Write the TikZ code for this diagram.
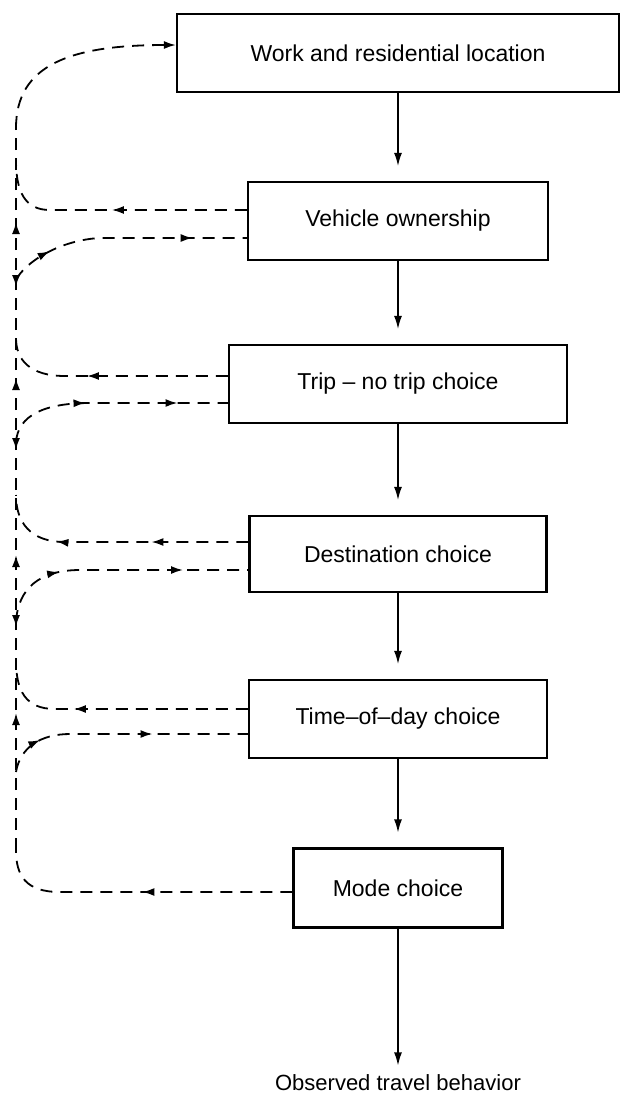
\documentclass[tikz,border=0pt]{standalone}
\usepackage{fontspec}
\setmainfont{Liberation Sans}
\usetikzlibrary{arrows.meta,decorations.markings}

\begin{document}
\begin{tikzpicture}[x=1pt,y=-1pt,
    box/.style={draw,line width=2.2pt,minimum height=78pt,font=\fontsize{23}{27}\selectfont},
    flow/.style={line width=1.4pt,-{Latex[length=13pt,width=8pt]},shorten >=15pt},
    fb/.style={line width=1.8pt,dash pattern=on 12pt off 8pt,postaction={decorate},decoration={markings}},
    tipat/.style={decoration={mark=at position #1 with {\arrow{Latex[length=12pt,width=8pt]}}}},
    tipback/.style={decoration={mark=at position #1 with {\arrowreversed{Latex[length=12pt,width=8pt]}}}}]
    \useasboundingbox (0,0) rectangle (621,1096);

    \node[box,minimum width=442pt] (work) at (398,53) {Work and residential location};
    \node[box,minimum width=300pt] (veh) at (398,221) {Vehicle ownership};
    \node[box,minimum width=338pt] (trip) at (398,384) {Trip -- no trip choice};
    \node[box,minimum width=297pt,minimum height=76pt] (dest) at (398,554) {Destination choice};
    \node[box,minimum width=298pt] (time) at (398,719) {Time--of--day choice};
    \node[box,minimum width=209pt,minimum height=79pt] (mode) at (398,888) {Mode choice};
    \node[font=\fontsize{22}{26}\selectfont] (obs) at (398,1083) {Observed travel behavior};

    \draw[flow] (work) -- (veh);
    \draw[flow] (veh) -- (trip);
    \draw[flow] (trip) -- (dest);
    \draw[flow] (dest) -- (time);
    \draw[flow] (time) -- (mode);
    \draw[flow,shorten >=6pt] (mode) -- (obs);

    \coordinate (bustop) at (16,128);
    \coordinate (busbot) at (16,850);
    \draw[fb,tipat=137pt,tipback=223pt,tipat=295pt,tipback=400pt,tipat=472pt,tipback=563pt,tipat=628pt] (busbot) -- (bustop);
    \draw[fb,-{Latex[length=12pt,width=8pt]}] (bustop) .. controls (16,65) and (70,45) .. ([yshift=8pt]work.west);

    \draw[fb,tipat=135pt] ([yshift=11pt]veh.west) -- (50,210) .. controls (25,210) and (16,192) .. (16,160);
    \draw[fb,tipat=45pt,tipat=190pt] (16,280) .. controls (25,262) and (60,240) .. (100,238) -- ([yshift=-17pt]veh.west);

    \draw[fb,tipat=141pt] ([yshift=8pt]trip.west) -- (65,376) .. controls (30,376) and (16,360) .. (16,338);
    \draw[fb,tipat=88pt,tipat=180pt] (16,442) .. controls (18,415) and (45,403) .. (90,403) -- ([yshift=-19pt]trip.west);

    \draw[fb,tipat=97pt,tipat=192pt] ([yshift=12pt]dest.west) -- (65,542) .. controls (30,542) and (16,522) .. (16,495);
    \draw[fb,tipat=72pt,tipat=196pt] (16,622) .. controls (18,588) and (40,570) .. (80,570) -- ([yshift=-16pt]dest.west);

    \draw[fb,tipat=174pt] ([yshift=10pt]time.west) -- (55,709) .. controls (25,709) and (16,690) .. (16,660);
    \draw[fb,tipat=42pt,tipat=155pt] (16,772) .. controls (20,748) and (40,734) .. (70,734) -- ([yshift=-15pt]time.west);

    \draw[fb,tipat=150pt] ([yshift=-4pt]mode.west) -- (60,892) .. controls (25,892) and (16,875) .. (16,850);
\end{tikzpicture}
\end{document}
